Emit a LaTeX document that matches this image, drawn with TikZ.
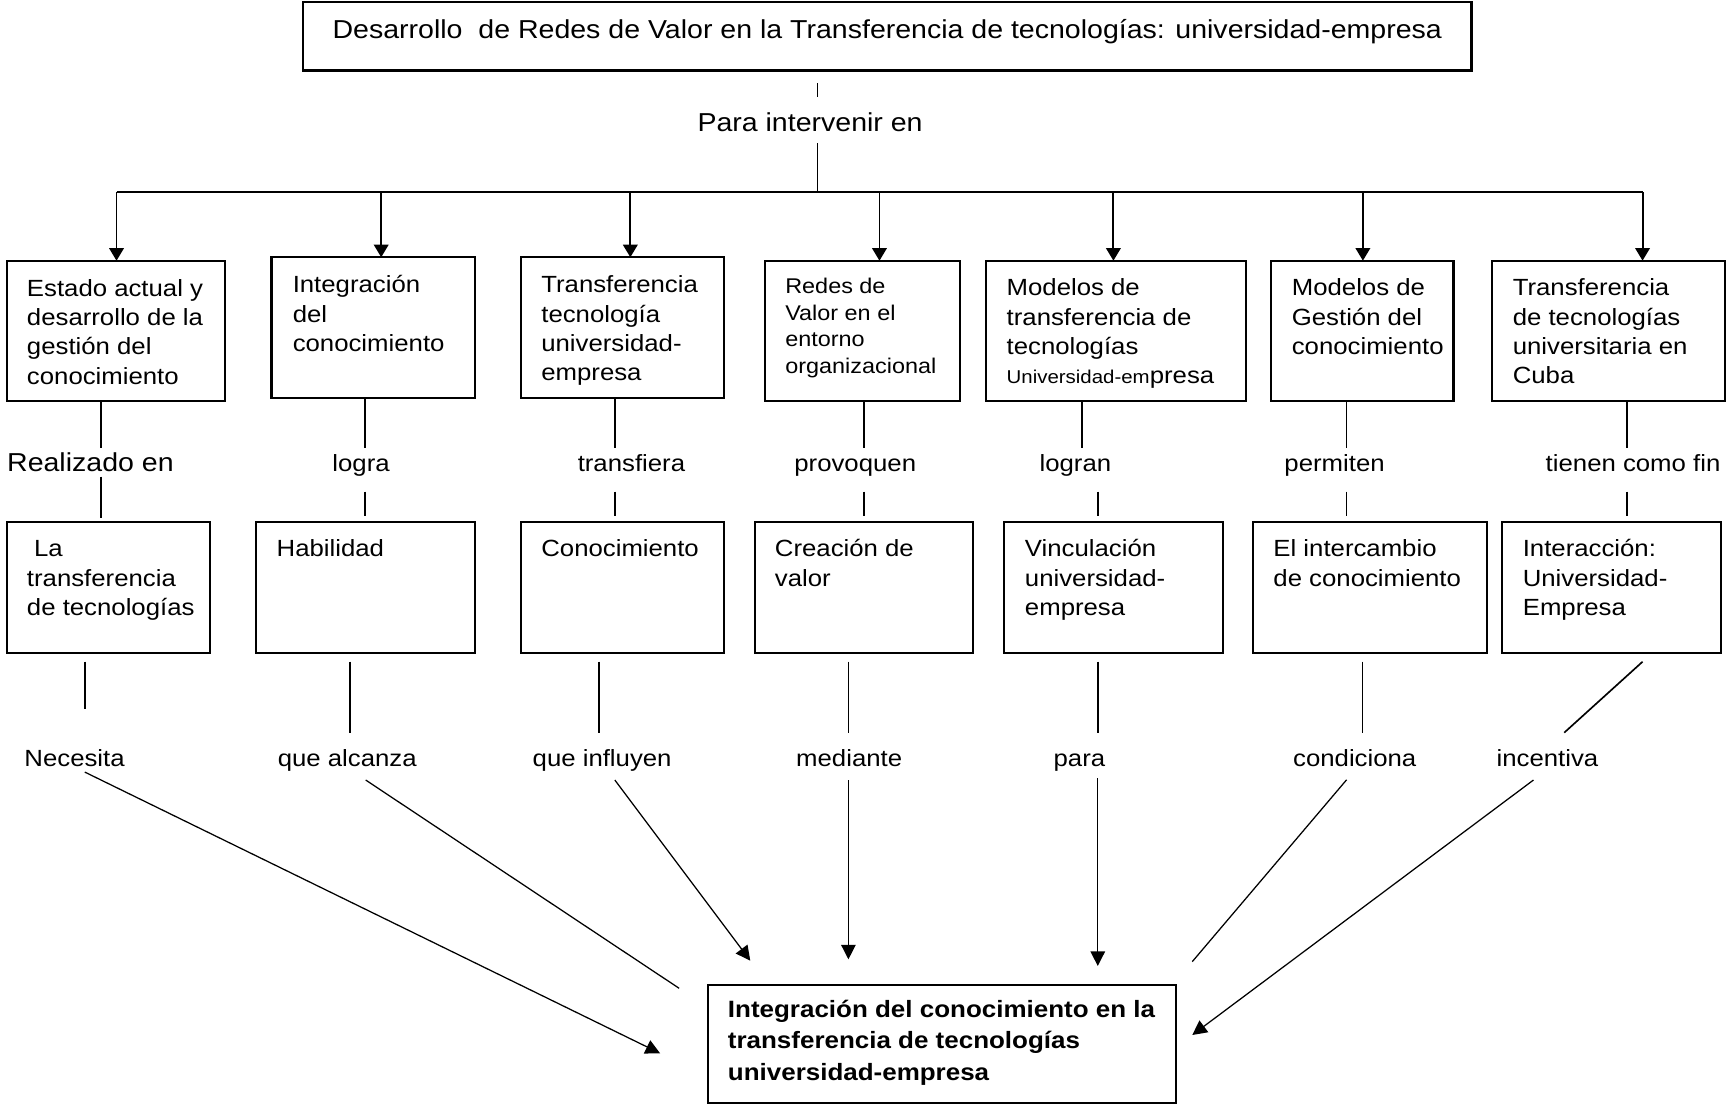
\documentclass[tikz,border=0pt]{standalone}
\usepackage{fontspec}
\setmainfont{Liberation Sans}[FakeStretch=1.1]
\usetikzlibrary{arrows.meta}

% font sizes used in the chart
\newcommand\fsNorm{\fontsize{12.1}{15.2}\selectfont}
\newcommand\fsBig{\fontsize{13.4}{16}\selectfont}
\newcommand\fsSmall{\fontsize{11}{13.8}\selectfont}
\newcommand\fsTiny{\fontsize{9.6}{12}\selectfont}
\newcommand\fsBold{\fontsize{12.2}{16.1}\bfseries}
% multi-line text block whose reference point is the first baseline
\newcommand\blk[1]{\parbox[t]{12cm}{\raggedright #1}}

\begin{document}
\begin{tikzpicture}[x=0.02cm, y=-0.02cm,
  box/.style={draw, line width=1.1pt, inner sep=0pt, outer sep=0pt, anchor=north west},
  sz/.style 2 args={minimum width=#1*0.02cm, minimum height=#2*0.02cm},
  txt/.style={anchor=base west, inner sep=0pt, outer sep=0pt},
  lbl/.style={anchor=base, inner sep=0pt, outer sep=0pt, font=\fsNorm},
  conn/.style={line width=0.85pt},
  diag/.style={line width=0.65pt},
  arrline/.style={line width=1pt},
  arr/.style={line width=1pt, -{Triangle[length=6.5pt,width=7.5pt]}},
  tip/.style={line width=0.65pt, -{Triangle[length=7.5pt,width=7.5pt]}},
]
\useasboundingbox (0,0) rectangle (1568,1004);

% ---------- title ----------
\node[box, sz={1061}{62}] (title) at (275,2) {};
\node[txt, font=\fsBig] (titletxt) at (302,34.8)
  {Desarrollo~ de Redes de Valor en la Transferencia de tecnologías: universidad-empresa};

\node[lbl, font=\fsBig] (pie) at (735.5,119) {Para intervenir en};
\coordinate (p0) at (742.1,75.4);
\coordinate (p1) at (742.1,88);
\coordinate (p2) at (742.1,130.1);
\coordinate (hub) at (742.1,174.6);
\draw[conn] (p0) -- (p1);
\draw[conn] (p2) -- (hub);

% ---------- first row of boxes ----------
\node[box, sz={198}{127.1}]   (b1) at (6.5,236.7) {};
\node[box, sz={184.5}{128}]   (b2) at (246.5,233.6) {};
\node[box, sz={184.5}{128}]   (b3) at (472.7,233.6) {};
\node[box, sz={177.1}{127.1}] (b4) at (694.7,236.7) {};
\node[box, sz={236.2}{127.1}] (b5) at (895.1,236.7) {};
\node[box, sz={165.7}{127.1}] (b6) at (1154,236.7) {};
\node[box, sz={211.3}{127.1}] (b7) at (1354.7,236.7) {};

\node[txt] (tb1) at (24.5,268.8) {\blk{\fsNorm Estado actual y\\desarrollo de la\\gestión del\\conocimiento}};
\node[txt] (tb2) at (265.8,265.7) {\blk{\fsNorm Integración\\del\\conocimiento}};
\node[txt] (tb3) at (491.5,265.7) {\blk{\fsNorm Transferencia\\tecnología\\universidad-\\empresa}};
\node[txt] (tb4) at (713,266.3) {\blk{\fsSmall Redes de\\Valor en el\\entorno\\organizacional}};
\node[txt] (tb5) at (914,268.5) {\blk{\fsNorm Modelos de\\transferencia de\\tecnologías\\{\fsTiny Universidad-em}presa}};
\node[txt] (tb6) at (1172.9,268.5) {\blk{\fsNorm Modelos de\\Gestión del\\conocimiento}};
\node[txt] (tb7) at (1373.5,268.5) {\blk{\fsNorm Transferencia\\de tecnologías\\universitaria en\\Cuba}};

% distribution bar and arrows into the first row
\coordinate (barL) at (105.8,174.6);
\coordinate (barR) at (1491.3,174.6);
\draw[arrline] (barL) -- (barR);
\foreach \b/\x in {b1/105.8, b2/346.1, b3/572.3, b4/798.5, b5/1010.9, b6/1237.4, b7/1491.3}{
  \coordinate (d\b) at (\x,174.6);
  \draw[arr] (d\b) -- (\b.north -| d\b);
}

% ---------- linking words between the rows ----------
\node[lbl, font=\fsBig] (l1) at (82.1,428.2) {Realizado en};
\node[lbl] (l2) at (327.8,428.2) {logra};
\node[lbl] (l3) at (573.3,428.2) {transfiera};
\node[lbl] (l4) at (776.5,428.2) {provoquen};
\node[lbl] (l5) at (976.4,428.2) {logran};
\node[lbl] (l6) at (1211.7,428.2) {permiten};
\node[lbl] (l7) at (1482.7,428.2) {tienen como fin};

\foreach \i/\xu/\xl/\ya/\yb in {1/91.7/91.7/432.8/470, 2/331.5/331.5/446.4/468.5,
    3/558.2/558.2/446.4/468.5, 4/784.4/784.4/446.4/468.5, 5/982.4/996.8/446.4/468.5,
    6/1222.6/1222.6/446.4/468.5, 7/1477/1477/446.4/468.5}{
  \coordinate (ua\i) at (\xu,407);
  \coordinate (la\i) at (\xl,\ya);
  \coordinate (lb\i) at (\xl,\yb);
  \draw[conn] (b\i.south -| ua\i) -- (ua\i);
  \draw[conn] (la\i) -- (lb\i);
}

% ---------- second row of boxes ----------
\node[box, sz={184.6}{119.6}] (c1) at (6.3,473.6) {};
\node[box, sz={198.5}{119.6}] (c2) at (232.5,473.6) {};
\node[box, sz={184.5}{119.6}] (c3) at (472.7,473.6) {};
\node[box, sz={198}{118.9}]   (c4) at (685.4,474.3) {};
\node[box, sz={198.6}{118.9}] (c5) at (911.4,474.3) {};
\node[box, sz={212.3}{118.9}] (c6) at (1137.8,474.3) {};
\node[box, sz={198.6}{118.9}] (c7) at (1363.8,474.3) {};

\node[txt] (tc1) at (24.5,505.4) {\blk{\fsNorm\ La\\transferencia\\de tecnologías}};
\node[txt] (tc2) at (251.2,505.4) {\blk{\fsNorm Habilidad}};
\node[txt] (tc3) at (491.5,505.4) {\blk{\fsNorm Conocimiento}};
\node[txt] (tc4) at (703.6,505.4) {\blk{\fsNorm Creación de\\valor}};
\node[txt] (tc5) at (930.6,505.4) {\blk{\fsNorm Vinculación\\universidad-\\empresa}};
\node[txt] (tc6) at (1156.2,505.4) {\blk{\fsNorm El intercambio\\de conocimiento}};
\node[txt] (tc7) at (1382.6,505.4) {\blk{\fsNorm Interacción:\\Universidad-\\Empresa}};

% segments below the second row
\foreach \i/\xa/\xb/\yb in {1/77.1/77.1/644, 2/318/318/665.2, 3/544.1/544.1/665.2,
    4/770.3/770.3/665.2, 5/996.7/996.7/665.2, 6/1236.9/1236.9/665.2, 7/1491.3/1420.2/665.2}{
  \coordinate (sa\i) at (\xa,600.8);
  \coordinate (sb\i) at (\xb,\yb);
  \draw[conn] (sa\i) -- (sb\i);
}

% ---------- lower linking words ----------
\node[lbl] (m1) at (67.7,696) {Necesita};
\node[lbl] (m2) at (315.3,696) {que alcanza};
\node[lbl] (m3) at (546.7,696) {que influyen};
\node[lbl] (m4) at (771,696) {mediante};
\node[lbl] (m5) at (980,696) {para};
\node[lbl] (m6) at (1230,696) {condiciona};
\node[lbl] (m7) at (1405,696) {incentiva};

% ---------- goal box ----------
\node[box, sz={425.1}{106.9}] (goal) at (642.6,894.3) {};
\node[txt] (goaltxt) at (660.9,924) {\blk{\fsBold Integración del conocimiento en la\\transferencia de tecnologías\\universidad-empresa}};

% connectors towards the goal
\coordinate (n1a) at (77,701);      \coordinate (n1b) at (599.3,956.3);
\coordinate (n2a) at (332,708.2);   \coordinate (n2b) at (616.6,897.3);
\coordinate (n3a) at (558.2,708.2); \coordinate (n3b) at (681.2,872.2);
\coordinate (n4a) at (770.3,708.2); \coordinate (n4b) at (770.3,871);
\coordinate (n5a) at (996.7,706.7); \coordinate (n5b) at (996.7,877);
\coordinate (n6a) at (1222.6,708);  \coordinate (n6b) at (1082.5,873.1);
\coordinate (n7a) at (1392.3,708.2);\coordinate (n7b) at (1082.5,939.7);
\draw[tip]  (n1a) -- (n1b);
\draw[diag] (n2a) -- (n2b);
\draw[tip]  (n3a) -- (n3b);
\draw[tip]  (n4a) -- (n4b);
\draw[tip]  (n5a) -- (n5b);
\draw[diag] (n6a) -- (n6b);
\draw[tip]  (n7a) -- (n7b);
\end{tikzpicture}
\end{document}
